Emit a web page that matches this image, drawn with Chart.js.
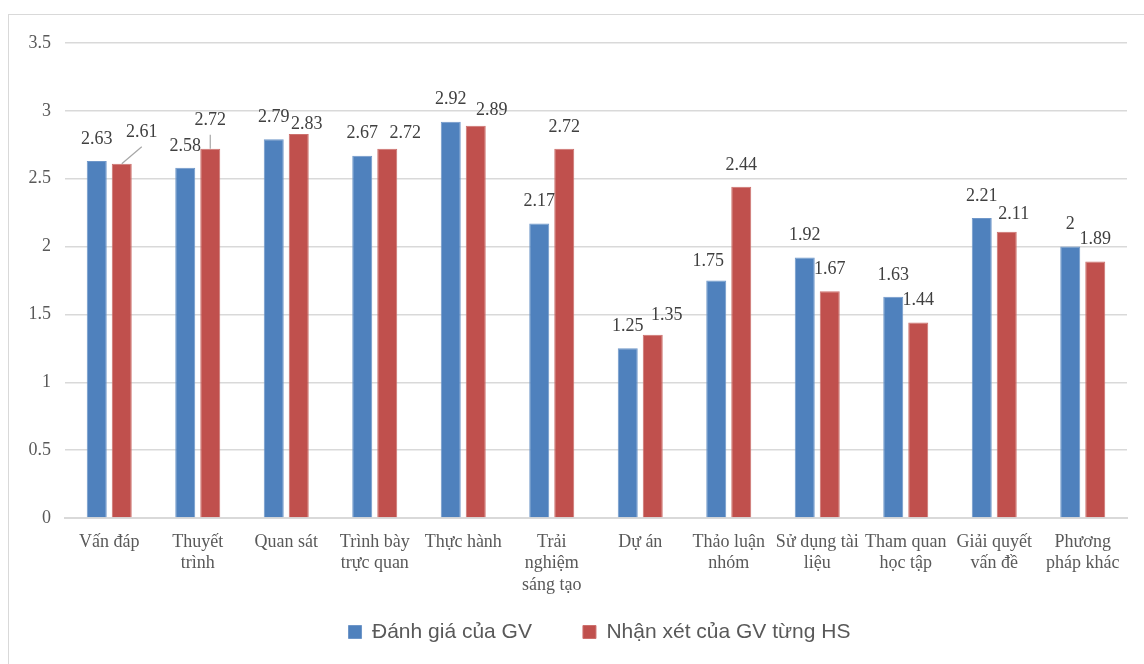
<!DOCTYPE html>
<html>
<head>
<meta charset="utf-8">
<script src="https://cdn.jsdelivr.net/npm/chart.js@4/dist/chart.umd.min.js"></script>
<style>
  html, body { margin: 0; padding: 0; background: #fff; }
  #frame { position: absolute; left: 8px; top: 14px; width: 1160px; height: 680px; border: 1px solid #d9d9d9; }
  #chart { position: absolute; left: 0; top: 0; }
</style>
</head>
<body>
<div id="frame"></div>
<canvas id="chart" width="1144" height="664"></canvas>
<script>
const categories = [
  'Vấn đáp', ['Thuyết', 'trình'], 'Quan sát', ['Trình bày', 'trực quan'], 'Thực hành',
  ['Trải', 'nghiệm', 'sáng tạo'], 'Dự án', ['Thảo luận', 'nhóm'], ['Sử dụng tài', 'liệu'],
  ['Tham quan', 'học tập'], ['Giải quyết', 'vấn đề'], ['Phương', 'pháp khác']
];
const danhGiaGV = [2.63, 2.58, 2.79, 2.67, 2.92, 2.17, 1.25, 1.75, 1.92, 1.63, 2.21, 2];
const nhanXetHS = [2.61, 2.72, 2.83, 2.72, 2.89, 2.72, 1.35, 2.44, 1.67, 1.44, 2.11, 1.89];
const seriesNames = ['Đánh giá của GV', 'Nhận xét của GV từng HS'];
const yTicks = { min: 0, max: 3.5, step: 0.5 };

// where a value label sits relative to its bar top: [dx, dy, leader line]
const labelShift = {
  0: { 7: [-8, -19] },
  1: { 0: [20, -32, true], 1: [0, -29, true], 2: [8, -10], 3: [18, -16], 4: [16, -16], 6: [14, -20], 10: [7, -17] }
};

const valueLabels = {
  id: 'valueLabels',
  afterDatasetsDraw(chart) {
    const ctx = chart.ctx;
    ctx.save();
    ctx.font = '18px "Liberation Serif", "Times New Roman", serif';
    ctx.fillStyle = '#404040';
    ctx.textAlign = 'center';
    ctx.textBaseline = 'middle';
    chart.data.datasets.forEach((ds, di) => {
      chart.getDatasetMeta(di).data.forEach((bar, i) => {
        const s = (labelShift[di] || {})[i] || [0, -22];
        const lx = bar.x + s[0], ly = bar.y + s[1];
        if (s[2]) {
          ctx.strokeStyle = '#a6a6a6';
          ctx.lineWidth = 1.2;
          ctx.beginPath();
          ctx.moveTo(bar.x, bar.y);
          ctx.lineTo(lx, ly + 15);
          ctx.stroke();
        }
        ctx.fillText(String(ds.data[i]), lx, ly);
      });
    });
    ctx.restore();
  }
};

// legend keeps a small slot in the layout, then gets a wider box below the axis
const legendBox = {
  id: 'legendBox',
  afterLayout(chart) {
    const lg = chart.legend;
    lg.left = 72;
    lg.right = chart.chartArea.right;
    lg.width = lg.right - lg.left;
    lg.top = 570.5;
    lg.bottom = chart.height;
    lg.height = lg.bottom - lg.top;
  }
};

new Chart(document.getElementById('chart'), {
  type: 'bar',
  data: {
    labels: categories,
    datasets: [
      { label: seriesNames[0], data: danhGiaGV, backgroundColor: '#4f81bd', borderColor: '#6f97c9', borderWidth: 1 },
      { label: seriesNames[1], data: nhanXetHS, backgroundColor: '#c0504d', borderColor: '#cd716e', borderWidth: 1 }
    ]
  },
  options: {
    responsive: false,
    animation: false,
    datasets: { bar: { categoryPercentage: 0.565, barPercentage: 0.8 } },
    layout: { padding: { left: 0, right: 17, top: 43, bottom: 12 } },
    plugins: {
      tooltip: { enabled: false },
      legend: {
        position: 'bottom',
        maxHeight: 40,
        labels: {
          boxWidth: 13, boxHeight: 13, padding: 51,
          color: '#595959',
          font: { family: '"Liberation Sans", Arial, sans-serif', size: 21 }
        }
      }
    },
    scales: {
      x: {
        grid: { display: false, drawTicks: false },
        border: { color: '#d9d9d9', width: 2 },
        ticks: {
          autoSkip: false, maxRotation: 0, padding: 13, color: '#595959',
          font: { family: '"Liberation Serif", "Times New Roman", serif', size: 18 }
        },
        afterFit(scale) { scale.height = 94; }
      },
      y: {
        min: yTicks.min, max: yTicks.max,
        grid: { color: '#d9d9d9', lineWidth: 1.5, drawTicks: false },
        border: { display: false },
        ticks: {
          stepSize: yTicks.step, padding: 14, color: '#595959',
          font: { family: '"Liberation Serif", "Times New Roman", serif', size: 18 },
          callback: v => String(v)
        },
        afterFit(scale) { scale.width = 65; }
      }
    }
  },
  plugins: [valueLabels, legendBox]
});
</script>
</body>
</html>
